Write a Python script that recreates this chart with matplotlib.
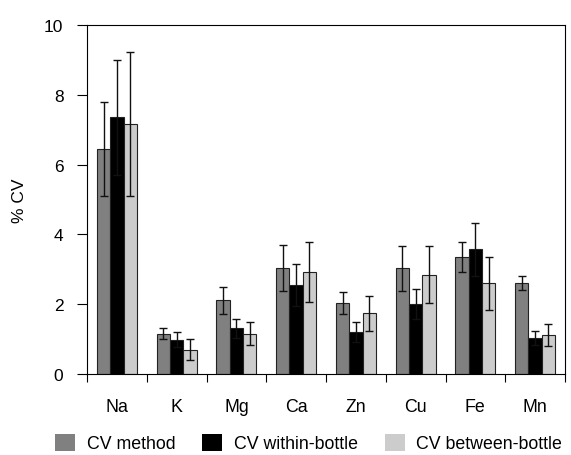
import matplotlib
matplotlib.use("Agg")
import matplotlib.pyplot as plt
import numpy as np
from matplotlib.patches import Patch

plt.rcParams['font.family'] = ['Liberation Sans', 'DejaVu Sans']

elements = ["Na", "K", "Mg", "Ca", "Zn", "Cu", "Fe", "Mn"]
series_names = ["CV method", "CV within-bottle", "CV between-bottle"]
cv_method = [6.45, 1.15, 2.11, 3.03, 2.03, 3.03, 3.34, 2.60]
cv_method_err = [1.35, 0.16, 0.38, 0.66, 0.32, 0.65, 0.43, 0.20]
cv_within = [7.35, 0.98, 1.31, 2.55, 1.21, 2.00, 3.57, 1.03]
cv_within_err = [1.64, 0.22, 0.27, 0.60, 0.28, 0.43, 0.77, 0.21]
cv_between = [7.16, 0.70, 1.15, 2.92, 1.74, 2.85, 2.60, 1.11]
cv_between_err = [2.07, 0.30, 0.33, 0.85, 0.50, 0.81, 0.76, 0.32]
y_ticks = [0, 2, 4, 6, 8, 10]

colors = ["#808080", "#000000", "#cccccc"]
values = [cv_method, cv_within, cv_between]
errors = [cv_method_err, cv_within_err, cv_between_err]

fig = plt.figure(figsize=(5.71, 4.56), dpi=100)
ax = fig.add_axes([87/571, 1-375/456, (565-87)/571, (375-26)/456])

x = np.arange(len(elements))
w = 0.223
for i in range(3):
    ax.bar(x + (i-1)*w, values[i], width=w, color=colors[i], edgecolor="#222222",
           linewidth=0.8, zorder=2)
    ax.errorbar(x + (i-1)*w, values[i], yerr=errors[i], fmt='none', ecolor="#111111",
                elinewidth=1.0, capsize=2.6, capthick=1.0, zorder=3)

ax.set_xlim(-0.5, len(elements)-0.5)
ax.set_ylim(0, 10)
ax.set_yticks(y_ticks)
ax.set_yticklabels([str(t) for t in y_ticks], fontsize=12.5)
ax.tick_params(axis='y', direction='out', length=7, width=0.8, pad=10)
ax.set_xticks(x)
ax.set_xticklabels(elements, fontsize=12.8)
ax.tick_params(axis='x', which='major', length=0, pad=17)
ax.set_xticks(np.arange(-0.5, len(elements), 1.0), minor=True)
ax.tick_params(axis='x', which='minor', direction='out', length=6, width=0.8)
for s in ax.spines.values():
    s.set_linewidth(0.8)
ax.set_ylabel("% CV", fontsize=12.5, labelpad=12)

handles = [Patch(facecolor=c, edgecolor='none') for c in colors]
fig.legend(handles, series_names, loc='center left', bbox_to_anchor=(55/571, 1-444/456),
           ncol=3, frameon=False, fontsize=12.8, handlelength=1.12, handleheight=1.12,
           handletextpad=0.67, columnspacing=1.5, borderaxespad=0, borderpad=0)

fig.savefig("out.png", dpi=100)
